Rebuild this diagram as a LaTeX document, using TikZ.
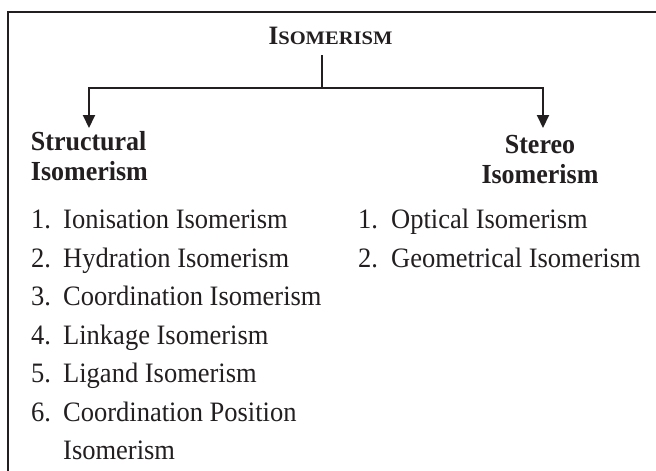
\documentclass[tikz,border=0pt]{standalone}
\usepackage{fontspec}
\setmainfont{Liberation Serif}
\usetikzlibrary{arrows.meta}
\definecolor{ink}{RGB}{35,31,32}
\tikzset{
  item/.style={anchor=base west, inner sep=0pt, font=\fontsize{26.5}{30}\selectfont, text=ink},
  head/.style={inner sep=0pt, font=\fontsize{26}{30}\selectfont\bfseries, text=ink},
  conn/.style={draw=ink, line width=2pt},
  arr/.style={conn, -{Triangle[width=12pt,length=13pt]}},
}
\newcommand{\numb}[1]{\makebox[32pt][l]{#1}}
\newcommand{\tall}[1]{\scalebox{1}[1.06]{#1}}
\begin{document}
\begin{tikzpicture}[x=1pt,y=-1pt]
\useasboundingbox (0,0) rectangle (656,471);
\clip (0,0) rectangle (656,471);
\fill[white] (0,0) rectangle (656,471);
\draw[conn] (8,12) rectangle (700,520);
% title
\node[anchor=base, inner sep=0pt, text=ink, font=\bfseries] (title) at (330.5,44.3)
  {\tall{{\fontsize{25}{25}\selectfont I}\scalebox{1.14}[1]{\fontsize{18}{18}\selectfont SOMERISM}}};
\coordinate (stem) at (322,55);
\coordinate (junc) at (322,88);
\coordinate (lt) at (89,128);
\coordinate (rt) at (543,128);
\draw[conn] (stem) -- (junc);
\draw[arr] (junc) -| (lt);
\draw[arr] (junc) -| (rt);
% headings
\node[head, anchor=base west] (s1) at (30.7,150) {\tall{Structural}};
\node[head, anchor=base west] (s2) at (30.7,180) {\tall{Isomerism}};
\node[head, anchor=base] (t1) at (540,153) {\tall{Stereo}};
\node[head, anchor=base] (t2) at (540,183) {\tall{Isomerism}};
% left list
\node[item] (a1) at (31,228) {\tall{\numb{1.}Ionisation Isomerism}};
\node[item] (a2) at (31,267) {\tall{\numb{2.}Hydration Isomerism}};
\node[item] (a3) at (31,305) {\tall{\numb{3.}Coordination Isomerism}};
\node[item] (a4) at (31,344) {\tall{\numb{4.}Linkage Isomerism}};
\node[item] (a5) at (31,382) {\tall{\numb{5.}Ligand Isomerism}};
\node[item] (a6) at (31,421) {\tall{\numb{6.}Coordination Position}};
\node[item] (a7) at (63,459) {\tall{Isomerism}};
% right list
\node[item] (b1) at (358,228) {\tall{\makebox[33pt][l]{1.}Optical Isomerism}};
\node[item] (b2) at (358,267) {\tall{\makebox[33pt][l]{2.}Geometrical Isomerism}};
\end{tikzpicture}
\end{document}
